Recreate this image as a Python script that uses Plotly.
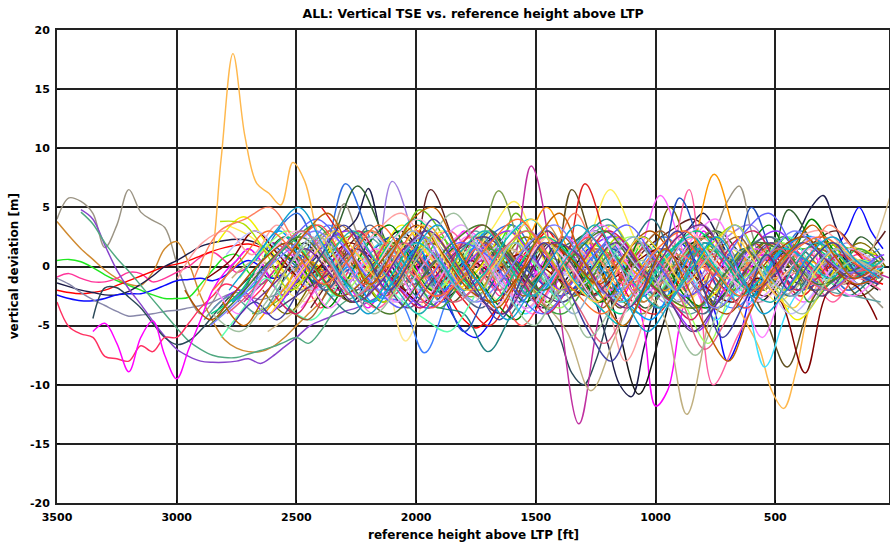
import plotly.graph_objects as go

# ---------------- axis / tick data ----------------
x_ticks = [3500, 3000, 2500, 2000, 1500, 1000, 500]
y_ticks = [-20, -15, -10, -5, 0, 5, 10, 15, 20]

# ---------------- long series entering from the left (step 50 ft, anchored at start height) ----------------
gray_dev = [4.0, 5.8, 5.5, 4.5, 1.6, 3.5, 6.5, 4.6, 3.9, 3.3,
            0.3, -2.5, -4.0, -3.0, -1.0, 0.5, 1.5, 0.5, -1.0, 0.5,
            2.0, 1.0, -0.5, 2.5, 5.3, 3.0, 0.5, -1.0, 0.0, 1.5,
            0.5, -1.0, -2.0, 0.0, 1.5, 0.5, -1.0, -0.5, 1.0, 2.0,
            0.0, -2.0, -1.0, 1.0, 0.5, -1.5, -2.5, -1.0, 1.0, 2.0,
            0.0, -2.0, -3.0, -1.0, 1.0, 3.0, 5.5, 6.8, 3.0, 0.0,
            -1.0, -2.0, -0.5, 1.0, 0.0, -1.0, -2.0, -1.5, -2.5, -3.5]
orange_brown_dev = [3.8, 2.6, 1.5, 0.6, -0.3, -1.0, -1.5, -1.6, -0.5, 1.5,
                    2.1, 0.3, -2.5, -4.6, -6.2, -6.9, -7.2, -7.2, -6.8, -6.0,
                    -5.0, -4.0, -3.0, -1.5, 0.5, 1.5, 0.5, -1.0, 0.5, 2.0,
                    1.0, -1.5, -3.0, -1.5, 0.5, 2.5, 1.5, -0.5, -1.5, 0.0,
                    2.2, 3.5, 2.0, -0.5, -2.0, -1.0, 1.0, 0.5, -1.5, -3.0,
                    -2.0, 0.0, 1.5, 0.5, -1.0, -2.0, -0.5, 1.0, 0.0, -1.5,
                    -1.0, 0.5, -0.5, -1.5, 0.0, 1.0, -0.5, -1.5, -0.5, 0.0]
green_dev = [0.5, 0.6, 0.4, -0.1, -0.7, -1.2, -1.6, -2.0, -2.4, -2.7,
             -2.7, -2.6, -1.5, -0.3, 0.8, 1.0, -0.5, -1.5, -0.8, 0.5,
             1.5, 0.8, -0.5, -1.0, 0.0, 1.2, 2.0, 1.0, -0.5, -1.5,
             -0.5, 1.0, 2.5, 1.5, 0.0, -1.0, 0.5, 2.0, 3.5, 2.0,
             0.0, -1.5, -0.5, 1.0, 0.5, -1.0, -2.5, -1.5, 0.5, 2.0,
             1.0, -0.5, -1.5, -0.5, 1.0, 2.5, 1.0, -1.0, -2.0, -0.5,
             1.5, 2.5, 1.0, -0.5, 0.5, 2.0, 1.0, -0.5, -1.5, 0.0]
hotpink_dev = [-0.9, -0.6, -1.0, -1.3, -1.3, -1.0, -0.5, -0.6, -1.3, -1.0,
               -0.5, 0.0, 0.8, 1.2, 0.5, -0.5, 0.0, 1.0, 2.0, 1.5,
               0.5, -1.0, -2.0, -1.0, 0.5, 1.5, 0.5, -0.5, 0.5, 1.5,
               0.5, -1.0, -0.5, 1.0, 2.0, 0.5, -1.0, -2.5, -1.5, 0.0,
               1.5, 2.5, 1.0, -1.0, -2.0, -0.5, 1.0, 2.0, 0.5, -1.0,
               -2.5, -1.5, 0.5, 1.5, 0.0, -1.5, -2.5, -1.0, 0.5, 1.0,
               0.0, -1.0, 0.0, 1.0, 0.0, -1.0, 0.5, 1.0, -0.5, -1.0]
red_dev = [-2.0, -2.2, -2.3, -2.2, -2.0, -1.6, -1.2, -0.8, -0.4, 0.0,
           0.2, 0.5, 0.9, 1.3, 1.6, 1.8, 1.9, 1.6, 0.8, 0.0,
           -1.0, -2.0, -1.5, 0.0, 1.0, 0.5, -1.0, -2.0, -1.0, 0.5,
           1.5, 0.5, -1.0, -3.0, -4.5, -5.2, -4.5, -3.0, -1.0, 1.0,
           2.0, 3.0, 1.5, 0.0, -1.0, 0.5, 1.5, 0.0, -1.5, -0.5,
           1.0, 0.0, -1.5, -2.5, -1.0, 0.5, 1.0, 0.0, -1.0, -2.0,
           -1.0, 0.5, 1.0, 0.0, -1.0, -0.5, 0.5, 0.0, -1.0, -1.5]
navy_dev = [-1.4, -1.7, -2.0, -2.2, -2.4, -2.4, -2.1, -1.5, -0.8, 0.0,
            0.5, 1.1, 1.7, 2.0, 2.2, 2.3, 2.2, 1.8, 1.0, 0.0,
            -0.5, 0.5, 1.5, 2.5, 3.0, 4.0, 6.6, 3.0, 0.0, -1.5,
            -0.5, 1.0, 0.5, -1.0, -2.0, -1.0, 0.5, 1.5, 0.5, -1.0,
            -2.0, -1.0, 0.5, 1.0, -1.0, -3.0, -6.5, -10.0, -11.0, -7.0,
            -3.0, 0.0, 2.0, 3.5, 4.5, 3.0, 1.0, -1.0, -2.5, -1.5,
            0.5, 1.5, 3.0, 5.0, 6.0, 3.5, 1.0, -0.5, -1.0, 0.0]
blue_dev = [-2.4, -2.7, -2.9, -2.9, -2.7, -2.4, -2.3, -2.3, -2.0, -1.6,
            -1.2, -1.1, -1.0, -1.2, -0.8, 0.0, 0.5, 0.0, -1.0, -0.5,
            1.0, 0.5, -0.5, 0.5, 1.5, 0.5, -1.0, -2.0, -1.0, 0.5,
            1.5, 0.0, -2.0, -4.0, -5.5, -6.0, -5.0, -3.0, -1.0, 0.5,
            1.5, 0.5, -1.0, -2.0, -1.0, 0.5, 1.5, 0.5, -1.0, -2.5,
            -1.5, 0.5, 2.0, 1.0, -1.0, -4.0, -8.0, -6.0, -2.0, 0.5,
            0.5, 2.0, 1.0, -0.5, 0.0, 1.5, 3.0, 5.0, 3.0, 1.5]
graypurple_dev = [-1.0, -1.5, -2.2, -2.8, -3.3, -3.8, -4.2, -4.1, -4.0, -3.8,
                  -3.7, -3.5, -3.3, -3.0, -2.5, -2.2, -2.5, -2.8, -2.5, -2.0,
                  -1.5, -1.0, -0.5, -1.0, -1.5, -0.5, 0.5, 0.0, -1.0, -1.5,
                  -0.5, 0.5, 1.0, 0.0, -1.0, -1.5, -0.5, 0.5, 1.5, 0.5,
                  -0.5, -1.5, -2.5, -2.0, -0.5, 1.0, 2.0, 1.0, -0.5, -1.5,
                  -2.5, -2.0, -0.5, 1.0, 0.5, -1.0, -2.0, -1.5, 0.0, 1.0,
                  0.5, -0.5, -1.5, -1.0, 0.0, 0.5, -0.5, -1.5, -1.0, 0.0]
purple_dev = [4.8, 4.0, 1.8, -0.3, -1.9, -3.2, -4.6, -5.9, -7.0, -7.6,
              -8.0, -8.1, -8.1, -8.0, -7.8, -8.2, -7.6, -6.8, -6.0, -5.1,
              -4.6, -4.2, -3.8, -3.5, -3.0, -2.5, -2.0, -1.0, 0.5, 1.5,
              0.5, -1.0, -2.0, -1.0, 0.5, 1.5, 0.5, -1.0, -0.5, 1.0,
              2.0, 1.0, -0.5, -1.5, -0.5, 1.0, 0.5, -1.0, -2.5, -1.5,
              0.0, 1.5, 1.0, -0.5, -1.5, -1.0, 0.5, 1.5, 2.0, 1.0,
              0.0, -1.0, -0.5, 0.5, 1.0, 0.0, -1.0, -0.5]
tealgreen_dev = [4.6, 3.6, 2.0, 0.7, -0.4, -1.6, -2.8, -4.0, -5.2, -6.3,
                 -7.0, -7.5, -7.7, -7.7, -7.4, -7.1, -6.8, -6.4, -6.0, -6.5,
                 -5.5, -4.0, -3.0, -2.5, -2.0, -1.0, 0.0, 1.0, 0.5, -0.5,
                 -1.5, -1.0, 0.5, 1.5, 1.0, -0.5, -1.5, -0.5, 1.0, 2.0,
                 1.0, -0.5, -1.5, -1.0, 0.5, 1.5, 1.0, -0.5, -1.5, -0.5,
                 1.0, 2.0, 1.0, -0.5, -1.5, -1.0, 0.5, 1.5, 0.5, -0.5,
                 -1.5, -1.0, 0.0, 1.0, 0.5, -0.5, -1.0, 0.0]
slate_dev = [-4.4, -1.8, -1.8, -2.6, -3.5, -4.8, -6.0, -6.6, -6.3, -5.4,
             -4.2, -3.0, -2.0, -1.0, -0.5, -1.5, -2.5, -1.5, 0.0, 1.0,
             0.5, -1.0, -2.0, -1.0, 0.5, 2.0, 1.0, -1.0, -2.5, -1.5,
             0.0, 1.5, 0.5, -1.0, -2.0, -1.0, 0.5, -1.5, -4.0, -6.0,
             -9.0, -10.0, -8.0, -4.5, -1.5, 0.5, -0.5, -2.0, -1.5, 0.0,
             1.5, 0.5, -1.0, -2.0, -0.5, 1.0, 2.0, 1.0, -0.5, -1.5,
             -1.0, 0.0, 1.0, 0.5, -0.5, -1.0, 0.0]
crimson_dev = [-3.0, -5.1, -5.7, -6.0, -7.6, -7.8, -8.0, -6.7, -7.2, -6.0,
               -6.0, -4.8, -3.5, -2.5, -1.5, -1.8, -2.8, -2.0, -0.5, 0.5,
               -0.5, -2.0, -3.5, -2.5, -1.0, 0.5, -0.5, -1.5, -2.5, -1.5,
               0.0, 1.0, 0.0, -1.5, -2.5, -1.5, 0.0, 1.5, 0.5, -1.0,
               -2.0, -1.0, 0.5, 1.5, 0.5, -1.0, -2.0, -1.0, 0.5, 1.5,
               0.5, -1.0, -2.0, -1.0, 0.5, 1.5, 0.5, -1.5, -2.5, -1.0,
               0.5, 1.0, 0.0, -1.0, -0.5, 0.5, 1.0, 0.0, -1.0, -0.5]
magenta_dev = [-5.5, -4.8, -6.5, -8.9, -6.0, -4.6, -7.5, -9.5, -7.0, -4.5,
               -2.0, -0.5, 0.5, 1.5, 0.5, -1.5, -2.5, -1.0, 1.0, 2.5,
               1.0, -1.0, -2.5, -3.5, -2.0, 0.0, 1.5, 0.0, -1.5, -0.5,
               1.5, 3.0, 1.5, -0.5, -2.0, -0.5, 1.0, -0.5, -2.0, -1.0,
               1.0, 2.5, 1.0, -1.5, -3.0, -1.5, -5.0, -11.8, -10.5, -5.0,
               0.0, 3.0, 1.5, -0.5, -1.5, 0.0, 1.0, 0.0, -1.5, -0.5,
               -0.5, 1.0, 0.5, -1.0, -0.5, 1.0, 0.5]
lightorange_dev = [-2.5, -0.5, 9.0, 18.0, 11.0, 7.0, 6.2, 5.2, 8.8, 7.2,
                   3.0, 0.5, -1.5, -0.5, 1.5, 0.5, -1.0, 0.0, 1.5, 0.5,
                   -1.0, -0.5, 1.0, 2.0, 0.5, -1.0, -0.5, 1.0, 2.5, 1.5,
                   0.0, -1.5, -0.5, 1.0, 0.0, -1.5, -2.5, -1.0, 0.5, 1.0,
                   -0.5, -2.0, -1.0, 0.5, -1.0, -3.0, -5.0, -7.0, -10.5, -12.0,
                   -9.0, -4.0, -1.0, 0.5, 0.0, -1.0, -0.5, 0.0]

left_series = [gray_dev, orange_brown_dev, green_dev, hotpink_dev, red_dev, navy_dev,
               blue_dev, graypurple_dev, purple_dev, tealgreen_dev, slate_dev,
               crimson_dev, magenta_dev, lightorange_dev]
left_start_ft = [3500, 3500, 3500, 3500, 3500, 3500, 3500, 3500, 3400, 3400, 3350, 3500, 3350, 2915]
left_colors = ['#9b9484', '#d08a30', '#20e820', '#ff3399', '#ff0000', '#1c1c48',
               '#0a0aff', '#8888aa', '#8844cc', '#50a880', '#2a4858', '#ff3060',
               '#ff00ff', '#ffb84d']

# ---------------- dense series (values listed from high to low height, anchored at their end height) ----------------
m01 = [-3.0, 2.5, 4.5, 1.0, 7.0, 2.5, -2.0, 1.5, -3.0, -1.0, 2.5, 3.5, 0.5, -3.0, -1.5, 2.0, -0.5, -3.5, -1.5, 2.5, 1.0, -2.5, 0.0, 3.0, 0.5, -2.0, -0.5]
m02 = [-3.0, 0.5, 2.5, -1.5, 2.5, 6.8, 3.0, -2.0, -3.5, -0.5, 2.5, 0.0, -3.0, -1.0, 2.0, 3.0, 0.0, -3.5, -1.5, 1.5, 3.0, 1.0, -2.0, 4.8, 2.0, -1.0, 2.5, 0.5]
m03 = [-2.0, 2.0, -0.5, -3.0, 0.5, 3.0, 1.0, -2.5, 0.0, 2.5, -0.5, -3.5, -1.0, 1.5, -4.0, -10.8, -5.0, 1.5, 2.5, -0.5, -3.0, -1.0, 1.5, 2.0, -0.5, -2.0]
m04 = [-3.0, -0.5, 2.0, 0.0, -2.5, 7.2, 2.0, -2.5, -0.5, 2.0, 0.0, -3.0, -1.0, 1.5, 3.0, 0.5, -2.5, -3.5, -0.5, 2.5, 3.5, 0.5, -2.0, 0.0, 2.0, 0.0]
m05 = [-3.5, -0.5, 2.5, 0.5, -2.0, 6.5, 2.0, -2.5, -4.0, -1.0, 2.0, 0.0, -3.0, -1.0, 1.5, 3.0, 4.0, 2.0, -1.0, -2.5, -0.5, 2.0, 3.0, 1.0, 3.0]
m06 = [-4.0, -3.0, -1.0, 1.0, 2.5, 3.0, 2.0, 4.8, 2.5, -2.5, -1.5, 4.5, 1.5, 0.5, 2.0, 1.0, 0.0, -0.5, 0.5, 1.5, 0.5, 1.0, 2.0, 1.5, 2.0, 1.5, 1.0]
m07 = [-2.5, 1.5, 3.0, 0.5, -2.0, 0.0, 2.5, -1.5, 0.5, 6.4, 1.0, -3.0, -1.0, 1.5, -2.5, -4.0, -1.5, 1.5, 3.0, 0.5, -2.0, 0.0, 2.5, 0.5, -1.5, 0.0]
m08 = [3.5, 2.5, 0.5, -2.0, 0.5, 3.0, 1.0, -1.5, 0.5, 3.0, 0.5, 3.0, 5.5, 1.5, -2.0, 1.5, 6.5, 2.5, -2.0, -3.5, -1.0, 1.5, -0.5, -3.0, -1.0, 1.5, 0.0, -1.0]
m09 = [1.0, 3.5, 0.5, -2.5, -3.0, -7.3, -2.5, 1.5, -0.5, -3.0, 0.0, 2.5, 0.5, -2.0, 0.0, 2.5, 0.5, -2.5, -3.5, -1.0, 1.5, 0.0, -2.0, 0.0, 1.5]
m10 = [1.0, -2.0, -3.0, 0.0, 3.0, 0.5, -6.3, -1.5, 2.0, -0.5, -3.0, 0.0, 2.5, 0.5, -2.0, 0.0, 2.0, -0.5, -2.5, 0.0, 2.0, 0.5, -1.5, 0.5, 2.0, 0.0, -0.5]
m11 = [-2.0, 0.5, 3.0, 0.5, -2.5, -3.5, -4.0, -7.2, -4.0, -1.0, 1.5, 2.5, 4.0, 1.0, -2.5, -0.5, 2.0, 0.0, -2.5, -0.5, 1.5, -0.5, -2.5, -1.0]
m13 = [-3.0, -1.0, 1.0, -0.5, -2.0, 0.0, 1.5, -0.5, -2.5, -1.0, 0.5, -1.0, 8.5, -1.0, -13.3, -3.0, 0.5, -1.0, 0.0, 1.5, 0.5, -1.5, -0.5, 0.5, -0.5, -1.5, -0.5, -1.0]
m14 = [0.5, -2.0, -3.0, 0.5, 2.5, -0.5, -3.0, -0.5, 2.0, -0.5, -3.0, 6.5, 1.0, -3.5, -1.0, 1.5, -0.5, -3.0, -1.0, -4.0, -8.5, -3.0, -0.5, -2.5, -1.0]
m15 = [5.0, 2.0, -2.0, 0.5, 3.0, -0.5, -3.0, -5.0, -2.0, 2.0, -0.5, 7.0, 1.5, -3.0, -4.0, -1.0, 1.5, -0.5, 2.0, 0.0, -2.5, -0.5, 1.5, -0.5]
m18 = [-2.0, -4.0, -1.5, 1.5, -0.5, -3.0, -0.5, 2.0, 0.0, -2.0, 0.5, 2.5, 0.0, -2.5, -0.5, -3.0, -1.0, 5.0, 0.0, -3.5, -1.0, 2.0, 0.0, -2.0, 0.5, 2.0, 0.0]
m19 = [-3.5, -1.0, 1.5, -0.5, -3.0, -1.0, 1.5, 3.0, 0.5, -2.5, 0.0, 2.5, 0.5, -2.0, 0.5, 6.0, 1.0, -3.5, -1.0, 1.5, -1.0, -3.0, -0.5, 1.5, -0.5]
m20 = [0.5, -2.0, -3.5, -1.0, 1.5, 3.0, 0.5, -2.0, 0.0, 2.5, 0.0, -2.5, -0.5, 2.0, 0.0, 6.5, -10.0, -6.0, -2.0, 1.5, -0.5, -3.0, -1.0, -2.0]
m21 = [2.0, 0.0, -1.5, -0.5, 1.0, 2.5, 0.5, -1.5, -5.5, -2.0, 0.5, -1.0, -2.5, -1.0, 1.5, 0.5, -1.0, 5.8, 1.0, -3.0, 5.0, 0.5, -2.0, -1.0, 0.5, 0.0]
m22 = [-1.0, 0.5, -0.5, -2.0, -0.5, 1.0, 0.0, -1.5, -0.5, 1.0, 2.0, 0.5, -1.0, -3.0, -5.5, -10.5, -6.0, -2.0, -4.0, -12.5, -4.0, 1.0, -1.0, -2.5, -1.0, 0.5, -0.5, -1.0]
m23 = [-4.5, -2.0, 0.5, -1.0, -2.5, -0.5, 1.0, 3.5, 1.0, -1.0, 0.0, 1.5, 5.0, 1.0, -1.5, 0.5, -1.0, -2.0, 1.0, 7.8, 2.0, -1.5, -0.5, 0.5, -1.0, 0.0, 0.5]
m24 = [0.0, -2.5, -0.5, 2.0, 0.0, -2.5, -0.5, 2.0, -1.0, -4.0, -1.5, 1.5, -0.5, -3.0, -1.0, 1.5, -1.0, -4.5, -2.0, -8.5, -3.5, -0.5, 1.5, -0.5, 0.0]
m25 = [-1.0, 0.5, 3.0, 1.0, -1.0, 0.5, 2.0, 0.5, -1.5, -3.0, -1.0, 0.5, -0.5, 1.0, 0.0, -1.5, -2.5, -1.0, 0.5, 1.5, 0.0, -2.0, -3.0, -1.0, -3.0, -9.0, -2.0, -1.5, -4.5]
m26 = [-5.5, -4.0, -1.5, 0.5, -0.5, 1.0, 2.0, 0.5, -1.0, 0.0, 1.5, 0.5, -1.0, 0.0, 0.5, -0.5, -1.5, -1.0, 0.5, 1.0, 0.0, -1.0, -0.5, -1.0, -1.5, 0.5, 6.0]
g01 = [-6.0, -3.5, -1.0, -3.5, -4.5, -2.0, 1.0, -1.0, -3.0, -4.5, -5.5, -3.0, 0.5, 2.0, -0.5, -3.0, -1.0, 1.5, -0.5, -2.5, 0.0, 2.0, -0.5, -2.0, 1.0, 2.5, 0.0, -1.5, 0.5, 0.0]
g02 = [2.0, 4.2, 1.5, -1.5, 2.0, -1.0, 0.5, 3.5, 1.0, -2.0, 0.0, 3.0, 0.5, -2.0, 0.5, 3.5, 0.0, -2.5, -3.5, -2.0, 1.5, -1.0, -4.5, -2.0, 1.5, 1.0]
g03 = [0.0, -2.5, -4.0, -1.0, 2.0, 0.0, -2.5, 0.5, 3.0, 0.5, -2.0, -0.5, 2.0, -0.5, 1.5, 4.0, 0.0, -3.5, -1.0, 1.5, -0.5, -2.5, -0.5, 1.5, 0.0, -0.5]
g04 = [1.0, -0.5, -3.5, -1.0, 2.0, 3.5, 0.5, -2.0, 1.5, -0.5, -3.0, -4.5, -1.0, 2.0, -0.5, -3.0, -1.0, 2.5, 0.5, -2.5, -3.5, -2.0, 1.5, 3.5, 1.0, 4.0, 1.5, -0.5, 0.5]
g05 = [-3.5, -2.0, -4.0, -1.5, 1.5, 3.0, 0.5, -2.0, -3.5, -1.0, 1.5, 3.0, 0.5, -2.0, 1.5, 2.5, -0.5, -3.0, -5.5, -2.0, 1.5, 3.0, 0.5, -2.0, 0.0, 1.0]
g06 = [-4.5, -2.5, -4.0, -1.0, 1.5, -0.5, 2.5, 0.5, -2.0, 0.0, 3.0, 0.5, -2.5, -0.5, 2.0, 3.5, 0.5, -2.5, -4.0, -1.5, 1.5, 2.5, 0.0, -2.0, -2.5, -3.0]
g07 = [-1.0, 2.0, 3.0, 1.0, 3.5, 0.5, -2.0, 0.5, 3.0, 4.5, 1.5, -1.5, 1.5, -1.0, -3.5, -1.0, 1.5, -1.0, -8.0, -3.0, 1.5, 2.5, 0.5, -2.0, 0.0, 2.5, 3.0, 1.0, -0.5]
g08 = [-3.5, -4.5, -2.0, 1.5, -1.0, -2.5, 1.5, 3.0, 1.0, -2.0, 2.0, 0.0, -2.5, -0.5, 2.5, 0.0, -3.5, -1.0, 1.5, 3.0, 0.5, -2.0, 1.5, 2.5, -0.5, -2.5, -0.5, 1.5, 0.5, -1.0, 0.0]
g09 = [0.5, 3.0, 0.5, -2.0, 0.0, -3.0, -1.0, 1.5, -2.0, 0.5, 3.0, 0.5, -2.5, -0.5, 2.0, -0.5, -3.0, -4.5, -1.5, 1.5, -1.0, -3.5, -0.5, 2.0, 2.5, 0.5, -1.5, 0.5]
g10 = [1.0, 3.0, 0.5, -2.0, 0.0, 2.5, -0.5, -3.0, -0.5, 1.5, 3.5, 0.5, -1.5, 2.0, -0.5, -3.0, -1.0, 1.5, -0.5, -4.0, -1.5, 1.5, 0.0]
g11 = [-1.0, 1.5, 3.0, 0.0, -2.5, -0.5, 2.0, 0.0, -2.0, 0.5, 3.0, 0.5, -2.0, -3.5, -1.0, 1.5, 2.5, -0.5, -3.0, -6.5, -2.0, 0.0, 2.0, 0.0, -2.0, 0.5, 0.0]
g12 = [-2.0, -4.0, -1.0, 1.5, -1.0, -3.5, -1.0, 1.5, -0.5, -3.0, -0.5, 2.5, 0.0, -2.5, -4.0, -0.5, 2.0, 3.5, 0.5, -2.0, -0.5, 2.5, 4.0, -1.0, -6.0, -1.5, 1.5, -1.0, -2.5, -1.0]
g13 = [2.0, 0.5, -2.0, 0.5, 3.5, 1.0, -1.5, 0.5, -2.0, -3.5, -1.0, 1.5, 3.0, 0.5, -2.5, -0.5, 2.0, 0.0, -2.5, -4.0, -1.0, 1.5, 2.5, 0.0, -2.0, -1.0, 0.5, -1.0]
g14 = [-4.0, -2.0, 0.0, 2.0, 3.5, 1.0, -1.5, 1.5, -1.0, -3.5, -1.0, 1.5, -0.5, -3.0, -4.0, -1.5, 1.0, -2.5, -0.5, 2.0, 0.0, -2.0, 0.5, 2.5, -3.0, -1.0, 1.5, 0.0]
g15 = [-0.5, 2.0, 3.5, 1.0, -2.0, 0.5, 2.5, 0.0, -2.0, 1.5, -1.0, -3.5, -1.0, 1.5, -0.5, -3.0, -1.0, 1.5, 2.5, -0.5, -2.0, 0.5, 2.0, 0.5, -1.0, 0.5]
g16 = [3.8, 3.6, 1.0, -2.0, 0.0, 2.5, -0.5, -3.0, 0.0, 2.5, 0.5, -2.0, 0.5, 3.0, 1.0, -2.0, 0.0, 2.5, 0.0, -2.5, -0.5, 2.0, 3.5, 0.5, -2.0, 0.0, 2.0, -0.5, 0.0]
g17 = [-1.0, 3.0, 4.0, 5.0, 2.0, -0.5, 1.0, 3.0, 0.5, -1.0, 1.0, 2.5, 0.0, -1.5, 0.5, 4.5, 0.5, -1.5, -0.5, 1.0, 0.0, -1.0, 0.5, 2.0, 0.5, 3.5, 1.5, 0.0]
g18 = [2.0, 3.5, 1.0, -1.5, 2.0, -1.0, -3.5, -1.5, 1.5, -2.0, -5.0, -2.5, 0.5, 2.5, 0.5, -2.0, 0.0, 2.5, 0.5, -2.0, -3.5, -1.0, 1.5, -0.5, -2.5, -0.5, 0.0]
g19 = [-3.5, -2.0, -0.5, 1.5, -1.0, -3.5, -1.0, 1.5, 2.5, 0.5, -2.0, -3.0, -0.5, 2.0, 0.0, -2.5, -5.5, -3.0, -0.5, 2.0, 0.0, -2.5, -0.5, -1.0]
g20 = [-2.0, 0.5, 2.5, 1.0, -1.5, -3.0, -0.5, 2.0, 3.5, 1.0, -2.0, -3.5, -1.0, 1.5, 3.0, 0.5, -2.5, -1.0, 2.0, 3.5, 0.0, -3.0, -2.0, 1.0, 2.5, 0.5, -1.5, -0.5]
g21 = [-4.0, -2.5, 0.5, 2.5, 0.0, -2.5, -1.0, 2.0, 4.0, 1.5, -1.5, -3.0, 0.0, 2.5, 1.0, -2.0, -4.0, -1.5, 1.5, 3.0, 0.5, -2.0, -0.5, 2.0, 1.0, -1.0, 0.5]
g22 = [-2.5, -4.0, -1.5, 1.0, 3.0, 0.5, -2.0, -3.5, -1.0, 2.0, 3.5, 1.0, -1.5, -4.0, -2.0, 1.0, 3.0, 1.5, -1.5, -3.0, -4.5, -1.0, 2.0, 3.0, 0.5, -2.0, -1.0, 1.0, 0.0, -1.5]
g23 = [-3.0, -0.5, 2.0, 4.0, 1.5, -1.5, -3.5, -1.0, 2.0, 1.0, -2.0, -4.0, -1.5, 1.5, 3.5, 0.5, -2.5, -1.0, 2.5, 4.5, 1.0, -2.0, -0.5, 1.0]
g24 = [-1.5, 1.5, 3.0, 0.5, -2.0, -0.5, 2.5, 4.0, 1.0, -2.0, -3.5, -1.0, 2.0, 0.5, -2.5, -4.5, -2.0, 1.0, 3.0, 0.5, -1.5, -3.0, -0.5, 1.5, 0.0, -1.0, 0.5]
g25 = [-5.0, -2.5, 0.5, 2.5, 0.0, -2.5, -4.0, -1.0, 2.0, 3.5, 0.5, -2.0, 1.0, 3.0, 0.0, -2.5, -3.5, -0.5, 2.0, 1.0, -1.5, -0.5, 0.5]
g26 = [-3.0, -1.5, 1.0, 3.0, 1.0, -1.5, -3.0, -0.5, 2.0, 0.5, -2.0, -0.5, 2.5, 4.0, 1.5, -1.5, -3.5, -5.0, -2.0, 1.0, 2.5, 0.0, -2.5, -1.0, 1.5, 0.5, -1.0, 0.5, 0.0]
g27 = [-2.0, -4.5, -2.0, 0.5, 2.0, 0.0, -2.5, -1.0, 1.5, 3.5, 1.0, -2.0, -3.0, -0.5, 2.0, 0.5, -1.5, 1.0, 3.0, 0.5, -2.5, -4.0, -1.0, 1.5, 2.5, 0.0, -1.5, -0.5]
g28 = [-5.0, -3.0, -0.5, 1.5, 3.0, 0.5, -2.0, 0.5, 2.5, -0.5, -3.0, -1.0, 2.0, 3.5, 0.5, -2.5, -1.0, 1.5, -1.0, -3.5, -1.5, 1.0, 3.0, 1.0, -0.5, 0.5]
g29 = [-4.0, -1.5, 1.0, 3.0, 1.0, -1.0, 1.5, 3.5, 0.5, -2.0, -0.5, 2.0, 4.0, 1.5, -1.5, -3.0, 0.0, 2.5, 1.0, -1.5, 0.5, 3.0, 1.0, -2.0, -3.5, -0.5, 1.5, 0.5, -0.5]
g30 = [-3.0, -1.0, 1.5, -0.5, -3.0, -1.5, 1.5, 3.0, 0.5, -2.5, -4.0, -1.0, 2.0, 1.0, -2.0, -3.5, -0.5, 2.5, 3.5, 0.5, -2.0, -0.5, 2.0, 0.5, -1.0, 0.0]
g31 = [1.0, 3.0, 0.5, -2.0, -4.0, -1.5, 1.5, 3.0, 0.5, -2.5, -1.0, 1.5, 3.5, 0.5, -2.0, -3.5, -1.0, 2.0, 0.5, -2.0, -3.0, 0.0, 2.0, 1.0, -0.5, 0.5]
g32 = [-2.0, 0.5, 3.0, 1.0, -1.5, 1.0, 3.5, 0.5, -2.5, -1.0, 2.0, 4.0, 1.0, -2.0, -4.0, -1.5, 1.5, 3.0, 0.0, -2.5, -1.0, 1.5, 2.5, 0.5, -1.0]
g33 = [0.5, 2.5, 0.0, -2.5, -1.0, 1.5, 3.0, 1.0, -1.5, -3.0, -0.5, 2.0, 0.5, -2.0, -4.0, -1.5, 1.0, 2.5, 0.0, -2.0, -0.5, 1.5, 3.5, 1.0, -1.5, -2.5, 0.0, 1.5, 0.5, -0.5]
g34 = [-4.0, -2.0, 1.0, 3.0, 0.5, -2.5, -1.0, 2.0, 0.0, -3.0, -1.5, 1.5, 3.0, 0.0, -3.5, -6.5, -3.0, 0.5, -2.5, -7.0, -4.0, -0.5, 1.5, -1.0, -2.0, -0.5, 0.0]
g35 = [-5.0, -3.0, -4.5, -2.0, 1.0, 3.5, 1.0, -2.0, 0.5, 4.0, 1.5, -2.0, -4.5, -1.0, 2.0, -1.5, -5.5, -8.0, -4.0, 0.5, 3.0, -1.0, -6.0, -3.0, 1.0, -2.0, 0.5, 2.0, -0.5, -1.5]
g36 = [-4.0, -5.5, -3.0, 0.5, 2.5, -1.0, -4.0, -1.5, 2.0, 4.5, 1.0, -2.5, -5.0, -2.0, -6.0, -3.0, 0.5, -3.5, -7.5, -3.0, 0.5, -2.0, -4.0, -1.0, 0.5, -1.0]
g37 = [-3.0, -5.0, -2.5, 0.5, 3.0, 4.5, 1.5, -1.5, 1.0, 4.0, 5.0, 2.0, -1.0, -3.5, -1.0, 2.5, 4.5, 1.0, -2.5, -5.0, -2.0, 1.5, -1.5, -5.5, -8.0, -4.0, -0.5, 1.5, 3.5, 1.0, -1.0, 0.0]
g38 = [-2.0, 0.5, 3.0, 5.0, 2.0, -1.5, -4.0, -1.5, 1.5, 3.5, 0.5, -2.0, -4.5, -2.0, 1.0, 3.5, 1.5, -2.5, -5.5, -3.0, 0.0, 2.5, -0.5, -4.0, -2.0, 1.0, 2.5, 0.5, -1.0]

dense_series = [m01, m02, m03, m04, m05, m06, m07, m08, m09, m10, m11, m13, m14, m15, m18,
                m19, m20, m21, m22, m23, m24, m25, m26,
                g01, g02, g03, g04, g05, g06, g07, g08, g09, g10, g11, g12, g13, g14, g15,
                g16, g17, g18, g19, g20, g21, g22, g23, g24, g25, g26, g27, g28, g29, g30,
                g31, g32, g33, g34, g35, g36, g37, g38]
dense_step_ft = [100, 100, 100, 100, 100, 100, 100, 100, 100, 100, 100, 100, 100, 100, 100,
                 100, 100, 100, 100, 100, 100, 100, 100,
                 95, 110, 96, 88, 112, 113, 104, 82, 97, 124, 103, 95, 93, 103, 97,
                 98, 106, 94, 108, 92, 107, 87, 118, 102, 127, 96, 108, 111, 91, 104,
                 92, 116, 84, 105, 93, 112, 88, 97]
dense_end_ft = [95, 45, 70, 100, 40, 85, 55, 90, 65, 45, 100, 20, 50, 95, 40,
                80, 60, 100, 70, 55, 45, 75, 20,
                60, 80, 55, 85, 45, 60, 85, 75, 50, 65, 60, 80, 55, 50, 85,
                75, 65, 55, 90, 60, 75, 65, 55, 45, 70, 80, 50, 85, 60, 75,
                55, 65, 80, 60, 70, 50, 80, 65]
dense_colors = ['#3070e0', '#306030', '#151515', '#a080e0', '#602020', '#70c020', '#80a050',
                '#ffee55', '#4080ff', '#ffe890', '#208080', '#c030a0', '#605020', '#e02020',
                '#807000', '#ff60ff', '#ff60a0', '#2050c0', '#c0b080', '#ff9900', '#40e0ff',
                '#800000', '#d8c090',
                '#60ffb0', '#f0f000', '#307080', '#008000', '#9030ff', '#60a0a0', '#ffa0a0',
                '#a06030', '#00a0ff', '#c0c0ff', '#a0ff60', '#ff80ff', '#506080', '#40a040',
                '#c08040', '#b0e000', '#ff8060', '#ff5050', '#5a3a7a', '#e0a0ff', '#00d080',
                '#d02060', '#6060ff', '#ffc0e0', '#4a7a2a', '#00c0c0', '#b05000', '#8080ff',
                '#ffd040', '#703090', '#20b0b0', '#ff7030', '#90b0d0', '#e06080', '#4040a0',
                '#a0c0a0', '#c06000', '#10a0d0']

LEFT_STEP = 50
LINE_W = 1.45

fig = go.Figure()

for vals, start, col in zip(left_series, left_start_ft, left_colors):
    hx = [start - LEFT_STEP * i for i in range(len(vals))]
    fig.add_trace(go.Scatter(x=hx, y=vals, mode='lines',
                             line=dict(color=col, width=LINE_W, shape='spline', smoothing=1.0),
                             hoverinfo='skip'))

for vals, step, end, col in zip(dense_series, dense_step_ft, dense_end_ft, dense_colors):
    n = len(vals)
    hx = [end + step * (n - 1 - i) for i in range(n)]
    fig.add_trace(go.Scatter(x=hx, y=vals, mode='lines',
                             line=dict(color=col, width=LINE_W, shape='spline', smoothing=1.0),
                             hoverinfo='skip'))

font_family = 'DejaVu Sans, Verdana, sans-serif'

fig.update_layout(
    width=890, height=543,
    margin=dict(l=57, r=1, t=30, b=40),
    paper_bgcolor='white', plot_bgcolor='white',
    showlegend=False,
    font=dict(family=font_family, size=12, color='black'),
    title=dict(text='ALL: Vertical TSE vs. reference height above LTP',
               x=0.5315, xanchor='center', y=0.974, yanchor='middle', yref='container',
               font=dict(family=font_family, size=12.5, color='black', weight='bold')),
    annotations=[
        dict(text='reference height above LTP [ft]', xref='paper', yref='paper',
             x=0.5, y=-0.068, xanchor='center', yanchor='middle', showarrow=False,
             font=dict(family=font_family, size=12, color='black', weight='bold')),
        dict(text='vertical deviation [m]', xref='paper', yref='paper',
             x=-0.052, y=0.5, xanchor='center', yanchor='middle', showarrow=False,
             textangle=-90,
             font=dict(family=font_family, size=12, color='black', weight='bold')),
    ],
)
common_axis = dict(
    showgrid=True, gridcolor='#222222', gridwidth=1.8,
    showline=True, linecolor='#222222', linewidth=1.8, mirror=True,
    zeroline=False, ticks='inside', ticklen=3, tickcolor='black',
    automargin=False, ticklabelstandoff=3,
    tickfont=dict(family=font_family, size=11, color='black', weight='bold'),
)
fig.update_xaxes(range=[3500, 25], tickvals=x_ticks,
                 ticktext=[str(v) for v in x_ticks], **common_axis)
fig.update_yaxes(range=[-20, 20], tickvals=y_ticks,
                 ticktext=[str(v) for v in y_ticks], **common_axis)

fig.write_html('out.html', config={'displayModeBar': False},
               post_script="document.body.style.margin='0';document.body.style.overflow='hidden';")
